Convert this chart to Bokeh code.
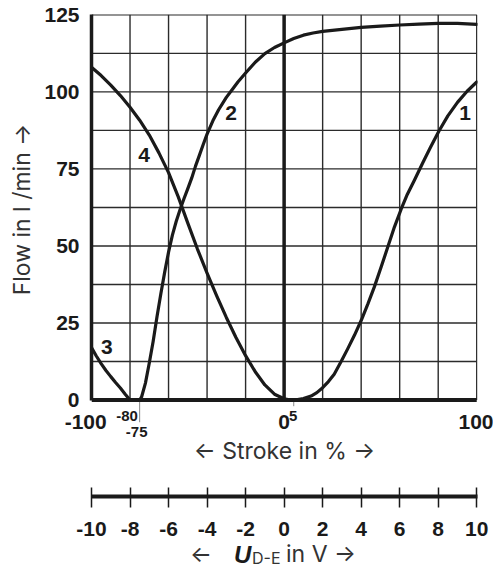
from bokeh.plotting import figure
from bokeh.layouts import column
from bokeh.models import Range1d, LinearAxis, FixedTicker, Div
from bokeh.core.properties import value
from bokeh.embed import file_html
from bokeh.resources import INLINE

# ---- data ----
curve1_x = [3.5, 7, 10, 14, 17, 20, 23, 26, 29.6, 33, 36.5, 40, 43.5, 46.9, 50.5, 53.9, 57.3,
            60.8, 64, 67.7, 72, 76, 80.4, 85, 90, 95, 100]
curve1_y = [0, 0.15, 0.5, 1.3, 2.4, 4, 6, 8.4, 12.5, 16.6, 21, 25.8, 31.2, 36.8, 43.4, 49.8, 56.2,
            62, 66.8, 71.4, 77, 82, 87.3, 92.2, 96.6, 100.2, 103.2]

curve2_x = [-75, -74, -72, -70, -68, -66, -64, -62, -60, -58, -56, -54, -52, -50, -48, -46, -44,
            -42, -40, -37, -34, -30, -27, -24, -20, -15, -10, -5, 0, 5, 10, 15, 20, 30, 40, 50,
            60, 70, 80, 90, 100]
curve2_y = [0, 1, 5.5, 12, 19, 27, 34.5, 41.5, 48, 53.5, 58, 61.8, 65.3, 68.6, 72, 75.9, 79.4,
            82.9, 86.3, 90.6, 94.2, 98.2, 100.7, 103.2, 106.1, 109.6, 112.4, 114.4, 115.9, 117.3,
            118.4, 119.1, 119.6, 120.3, 120.9, 121.3, 121.7, 122, 122.2, 122.2, 121.9]

curve3_x = [-100, -97.5, -95, -92.5, -90, -87.5, -85, -82.5, -80]
curve3_y = [17, 14.3, 11.8, 9.6, 7.6, 5.7, 3.9, 1.9, 0]

curve4_x = [-100, -95, -90, -85, -80, -75, -70, -65, -60, -55, -50, -45, -40, -35, -30, -25,
            -20, -15, -10, -5, 0, 3.5]
curve4_y = [108, 105.3, 102.2, 98.8, 95, 90.8, 86, 80.2, 73.8, 66, 57.4, 49, 41.2, 33.8, 26.8,
            20.3, 14.4, 9.2, 4.9, 1.9, 0.4, 0]

curve_names = ["1", "2", "3", "4"]
y_ticks = [0, 25, 50, 75, 100, 125]
x_ticks = [-100, 0, 100]
x_extra_ticks = [-80, -75, 5]
volt_ticks = [-10, -8, -6, -4, -2, 0, 2, 4, 6, 8, 10]
x_grid = [-80, -60, -40, -20, 20, 40, 60, 80, 100]
y_grid = [12.5, 25, 37.5, 50, 62.5, 75, 87.5, 100, 112.5, 125]

INK = "#1a1a1a"
GRID = "#2b2b2b"
TITLE = "#333333"
NUMF = "Liberation Sans"
TXTF = "Inter"

p = figure(width=493, height=545, x_range=Range1d(-100, 100.4), y_range=Range1d(-14.1, 125.1),
           output_backend="svg", toolbar_location=None,
           min_border_left=91, min_border_right=16, min_border_top=14, min_border_bottom=102)
p.background_fill_color = "white"
p.border_fill_color = "white"
p.outline_line_color = None
p.xgrid.visible = False
p.ygrid.visible = False

# grid (only inside the chart box)
p.segment(x0=x_grid, y0=[0] * len(x_grid), x1=x_grid, y1=[125] * len(x_grid),
          line_color=GRID, line_width=1.4)
p.segment(x0=[-100] * len(y_grid), y0=y_grid, x1=[100] * len(y_grid), y1=y_grid,
          line_color=GRID, line_width=1.4)

# small marks below the stroke axis (-75 and 5)
p.segment(x0=x_extra_ticks[1:], y0=[0, 0], x1=x_extra_ticks[1:], y1=[-7.2, -2.0],
          line_color="#888888", line_width=1)

# thick zero line and bottom line
p.segment(x0=[0], y0=[0], x1=[0], y1=[125], line_color=INK, line_width=3.5)
p.segment(x0=[-100], y0=[0], x1=[100], y1=[0], line_color=INK, line_width=4)

# curves
for cx, cy in ((curve1_x, curve1_y), (curve2_x, curve2_y), (curve3_x, curve3_y), (curve4_x, curve4_y)):
    p.line(cx, cy, line_color=INK, line_width=3.2, line_join="round", line_cap="round")

# curve numbers
for name, (lx, ly) in zip(curve_names, [(94, 93), (-27.5, 93), (-92, 17.2), (-72.7, 79.5)]):
    p.text(x=[lx], y=[ly], text=[name], text_align="center", text_baseline="middle",
           text_font=value(NUMF), text_font_style="bold", text_font_size="21px", text_color=INK)

# extra stroke labels (-80, -75, 5)
for xv, ly, off in zip(x_extra_ticks, [-5.2, -10.4, -5.3], [-3, -3, -0.5]):
    p.text(x=[xv], y=[ly], text=[str(xv)], x_offset=off, text_align="center",
           text_baseline="middle", text_font=value(NUMF), text_font_style="bold",
           text_font_size="15px", text_color=INK)

# y axis
ya = p.yaxis[0]
ya.ticker = FixedTicker(ticks=y_ticks)
ya.bounds = (0, 125)
ya.major_tick_in = 0
ya.major_tick_out = 0
ya.minor_tick_in = 0
ya.minor_tick_out = 0
ya.axis_line_width = 3.5
ya.axis_line_color = INK
ya.major_label_text_font = NUMF
ya.major_label_text_font_style = "bold"
ya.major_label_text_font_size = "21px"
ya.major_label_text_color = INK
ya.major_label_standoff = 12
ya.axis_label = "\u00a0" * 6 + "Flow in l /min →"
ya.axis_label_text_font = TXTF
ya.axis_label_text_font_style = "normal"
ya.axis_label_text_font_size = "23px"
ya.axis_label_text_color = TITLE
ya.axis_label_standoff = 5

# x axis (stroke)
xa = p.xaxis[0]
xa.ticker = FixedTicker(ticks=x_ticks)
xa.major_label_overrides = {-100: "-100\u00a0\u00a0", 0: "0", 100: "100"}
xa.axis_line_color = None
xa.major_tick_in = 0
xa.major_tick_out = 0
xa.minor_tick_in = 0
xa.minor_tick_out = 0
xa.major_label_text_font = NUMF
xa.major_label_text_font_style = "bold"
xa.major_label_text_font_size = "21px"
xa.major_label_text_color = INK
xa.major_label_standoff = -34
xa.axis_label = "← Stroke in % →"
xa.axis_label_text_font = TXTF
xa.axis_label_text_font_style = "normal"
xa.axis_label_text_font_size = "23px"
xa.axis_label_text_color = TITLE
xa.axis_label_standoff = 1

# spacer between the two scales
sp = LinearAxis(ticker=FixedTicker(ticks=[]), axis_line_color=None,
                major_tick_in=0, major_tick_out=0, minor_tick_in=0, minor_tick_out=0,
                major_label_standoff=0, axis_label=" ", axis_label_text_font_size="10px",
                axis_label_standoff=15)
p.add_layout(sp, "below")

# voltage scale
p.extra_x_ranges = {"volt": Range1d(-10, 10.04)}
va = LinearAxis(x_range_name="volt", ticker=FixedTicker(ticks=volt_ticks),
                major_label_overrides={t: str(t) for t in volt_ticks},
                axis_line_width=4, axis_line_color=INK,
                major_tick_in=9, major_tick_out=11, major_tick_line_width=1.5,
                major_tick_line_color=INK, minor_tick_in=0, minor_tick_out=0,
                major_label_text_font=NUMF, major_label_text_font_style="bold",
                major_label_text_font_size="21px", major_label_text_color=INK,
                major_label_standoff=14)
p.add_layout(va, "below")

# voltage title: <- U_D-E in V ->
title_html = (
    '<div style="position:relative;width:493px;height:24px;color:#333333;'
    'font-family:Inter;white-space:nowrap">'
    '<span style="position:absolute;left:190px;top:-2px;font-size:23px;line-height:23px">←</span>'
    '<span style="position:absolute;left:234px;top:-2px;font-family:\'Liberation Sans\';'
    'font-weight:bold;font-style:italic;font-size:24px;line-height:24px;color:#1a1a1a">U</span>'
    '<span style="position:absolute;left:252px;top:5px;font-size:16px;line-height:16px">D-E</span>'
    '<span style="position:absolute;left:286px;top:-2px;font-size:23px;line-height:23px">in V →</span>'
    '</div>'
)
div = Div(text=title_html, width=493, height=24, margin=0)

layout = column(p, div, spacing=0)
open("out.html", "w").write(file_html(layout, INLINE))
